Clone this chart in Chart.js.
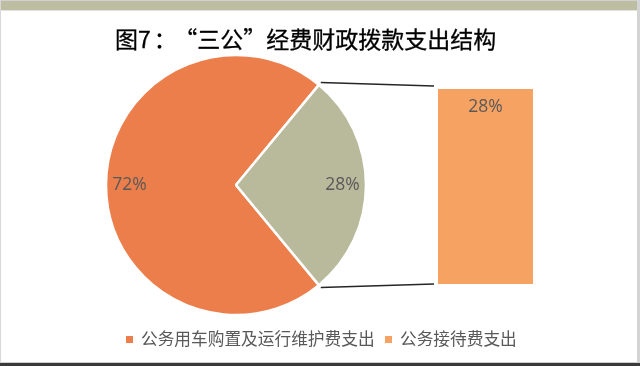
<!DOCTYPE html>
<html>
<head>
<meta charset="utf-8">
<script src="https://cdn.jsdelivr.net/npm/chart.js@4.4.1/dist/chart.umd.min.js"></script>
<style>
body { margin:0; background:#fff; }
#wrap { position:relative; width:640px; height:366px; overflow:hidden; background:#fff; }
#band { position:absolute; left:0; top:0; width:640px; height:9px; background:#bcbda1; border-top:1px solid #d0d0d0; border-bottom:1px solid #e2e2e2; }
#edgeL { position:absolute; left:0; top:0; width:1px; height:366px; background:#d8d8d8; }
#edgeR { position:absolute; right:0; top:0; width:3px; height:366px; background:#d4d4d4; }
#edgeB { position:absolute; left:0; bottom:0; width:640px; height:3px; background:#3a3a3a; border-top:1px solid #cfcfcf; }
#title { position:absolute; left:115px; top:23px; font-family:"Noto Sans CJK SC"; font-size:23px; line-height:30px; color:#000; white-space:nowrap; -webkit-text-stroke:0.3px #000; }
#title .fw { font-feature-settings:"fwid"; }
#title .colon { margin-left:3px; margin-right:9px; }
#pie { position:absolute; left:0; top:0; }
#bar { position:absolute; left:438px; top:89px; }
.leg { position:absolute; top:328px; font-family:"Noto Sans CJK SC"; font-size:16.7px; line-height:20px; color:#595959; white-space:nowrap; }
.leg i { display:inline-block; width:7px; height:7px; margin-right:8px; vertical-align:2px; }
</style>
</head>
<body>
<div id="wrap">
  <canvas id="pie" width="640" height="366"></canvas>
  <canvas id="bar" width="95" height="195"></canvas>
  <div id="band"></div>
  <div id="edgeL"></div>
  <div id="edgeR"></div>
  <div id="edgeB"></div>
  <div id="title">图7<span class="colon">：</span><span class="fw">“</span>三公<span class="fw">”</span>经费财政拨款支出结构</div>
  <div class="leg" id="leg0" style="left:126px"><i></i><span></span></div>
  <div class="leg" id="leg1" style="left:385px"><i></i><span></span></div>
</div>
<script>
// pie: main split, the second slice is broken out into the bar
var pieLabels = ['公务用车购置及运行维护费支出', '其他'];
var pieValues = [72, 28];
var pieColors = ['#ec7e4b', '#b9ba9c'];

// bar: breakdown of the second slice
var barLabels = ['公务接待费支出'];
var barValues = [28];
var barColors = ['#f6a263'];

var legendLabels = [pieLabels[0], barLabels[0]];
var legendColors = [pieColors[0], barColors[0]];

var labelFont = '17.5px "Open Sans"';
var labelColor = '#595959';

for (var i = 0; i < legendLabels.length; i++) {
	var el = document.getElementById('leg' + i);
	el.querySelector('i').style.background = legendColors[i];
	el.querySelector('span').textContent = legendLabels[i];
}

var barTotal = 0;
for (var i = 0; i < barValues.length; i++) barTotal += barValues[i];

var barLabelPlugin = {
	id: 'barLabel',
	afterDatasetsDraw: function(chart) {
		var ctx = chart.ctx;
		ctx.save();
		ctx.font = labelFont;
		ctx.fillStyle = labelColor;
		ctx.textAlign = 'center';
		ctx.textBaseline = 'middle';
		chart.data.datasets.forEach(function(ds, di) {
			var el = chart.getDatasetMeta(di).data[0];
			var top = Math.min(el.y, el.base);
			ctx.fillText(ds.data[0] + '%', el.x, top + 18);
		});
		ctx.restore();
	}
};

var barDatasets = [];
for (var i = 0; i < barValues.length; i++) {
	barDatasets.push({
		label: barLabels[i],
		data: [barValues[i]],
		backgroundColor: barColors[i],
		borderWidth: 0,
		barPercentage: 1,
		categoryPercentage: 1
	});
}

var barChart = new Chart(document.getElementById('bar'), {
	type: 'bar',
	data: { labels: [''], datasets: barDatasets },
	options: {
		responsive: false,
		animation: false,
		layout: { padding: 0 },
		plugins: { legend: { display: false }, tooltip: { enabled: false } },
		scales: {
			x: { display: false, stacked: true },
			y: { display: false, stacked: true, min: 0, max: barTotal }
		}
	},
	plugins: [barLabelPlugin]
});

var pieLabelPlugin = {
	id: 'pieLabel',
	afterDatasetsDraw: function(chart) {
		var ctx = chart.ctx;
		var meta = chart.getDatasetMeta(0);
		ctx.save();
		ctx.font = labelFont;
		ctx.fillStyle = labelColor;
		ctx.textAlign = 'center';
		ctx.textBaseline = 'middle';
		meta.data.forEach(function(arc, i) {
			var mid = (arc.startAngle + arc.endAngle) / 2;
			var r = arc.outerRadius * 0.82;
			ctx.fillText(pieValues[i] + '%', arc.x + Math.cos(mid) * r, arc.y + Math.sin(mid) * r);
		});

		// series lines from the broken-out slice to the bar
		var arc = meta.data[1];
		var bar = barChart.getDatasetMeta(0).data[0];
		var cv = barChart.canvas;
		var left = cv.offsetLeft + bar.x - bar.width / 2;
		var top = cv.offsetTop + Math.min(bar.y, bar.base);
		var bottom = cv.offsetTop + Math.max(bar.y, bar.base);
		var r = arc.outerRadius + 3;
		ctx.strokeStyle = '#262626';
		ctx.lineWidth = 1.3;
		ctx.beginPath();
		ctx.moveTo(arc.x + Math.cos(arc.startAngle) * r, arc.y + Math.sin(arc.startAngle) * r);
		ctx.lineTo(left - 4, top - 3);
		ctx.moveTo(arc.x + Math.cos(arc.endAngle) * r, arc.y + Math.sin(arc.endAngle) * r);
		ctx.lineTo(left - 4, bottom);
		ctx.stroke();
		ctx.restore();
	}
};

// the second slice is centred on the right-hand side
var pieTotal = pieValues[0] + pieValues[1];
var rotation = 90 + pieValues[1] / pieTotal * 180;

new Chart(document.getElementById('pie'), {
	type: 'pie',
	data: {
		labels: pieLabels,
		datasets: [{
			data: pieValues,
			backgroundColor: pieColors,
			borderColor: '#ffffff',
			borderWidth: 2.5
		}]
	},
	options: {
		responsive: false,
		animation: false,
		rotation: rotation,
		radius: 130,
		layout: { padding: { left: 106, right: 274, top: 55, bottom: 51 } },
		plugins: { legend: { display: false }, tooltip: { enabled: false } }
	},
	plugins: [pieLabelPlugin]
});
</script>
</body>
</html>
